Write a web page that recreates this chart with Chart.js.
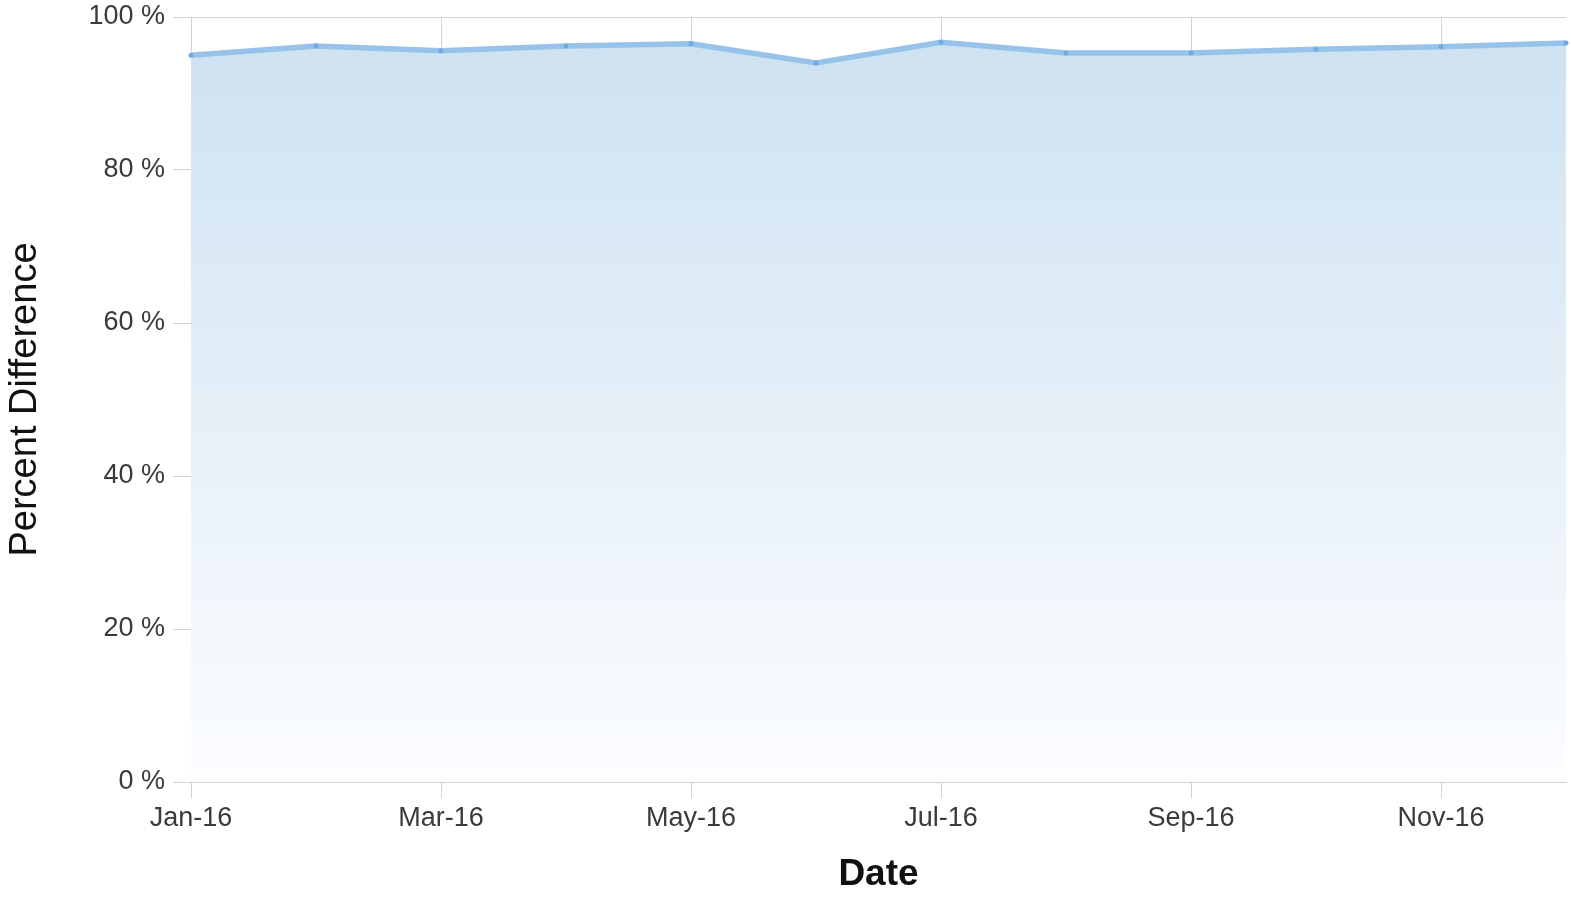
<!DOCTYPE html>
<html lang="en">
<head>
    <meta charset="UTF-8">
    <title>Percent Difference</title>
    <script src="https://cdn.jsdelivr.net/npm/chart.js"></script>
    <style>
        html, body { margin: 0; padding: 0; background: #fff; overflow: hidden; }
        #wrap { width: 1571px; height: 897px; position: relative; }
    </style>
</head>
<body>
    <div id="wrap">
        <canvas id="diffChart"></canvas>
    </div>

    <script>
        // months on the x axis
        const months = ['Jan-16', 'Feb-16', 'Mar-16', 'Apr-16', 'May-16', 'Jun-16',
                        'Jul-16', 'Aug-16', 'Sep-16', 'Oct-16', 'Nov-16', 'Dec-16'];
        // percent difference per month
        const percentDiff = [95.0, 96.2, 95.6, 96.2, 96.5, 94.0, 96.7, 95.3, 95.3, 95.8, 96.1, 96.6];
        const yMin = 0, yMax = 100, yStep = 20;

        const tickFont = { family: 'Liberation Sans', size: 27 };
        const gridColor = '#d3d3d3';

        const ctx = document.getElementById('diffChart').getContext('2d');
        new Chart(ctx, {
            type: 'line',
            data: {
                labels: months,
                datasets: [{
                    label: 'Percent Difference',
                    data: percentDiff,
                    borderColor: '#97c3ea',
                    borderWidth: 5.5,
                    pointRadius: 2.5,
                    pointBackgroundColor: '#6fabe2',
                    pointBorderWidth: 0,
                    tension: 0,
                    fill: 'start',
                    backgroundColor: function (context) {
                        const area = context.chart.chartArea;
                        if (!area) return 'rgba(205,226,242,1)';
                        const g = context.chart.ctx.createLinearGradient(0, area.top, 0, area.bottom);
                        g.addColorStop(0, 'rgb(204,225,241)');
                        g.addColorStop(1, 'rgb(252,253,255)');
                        return g;
                    }
                }]
            },
            options: {
                responsive: true,
                maintainAspectRatio: false,
                animation: false,
                layout: { padding: { top: 17, right: 5, left: 0, bottom: 0 } },
                plugins: {
                    legend: { display: false },
                    tooltip: { enabled: false }
                },
                scales: {
                    x: {
                        offset: false,
                        border: { color: gridColor },
                        grid: { color: gridColor, tickLength: 16, drawTicks: true },
                        ticks: {
                            autoSkip: false,
                            maxRotation: 0,
                            padding: 4,
                            color: '#3a3a3a',
                            font: tickFont,
                            callback: function (value, index) {
                                return index % 2 === 0 ? this.getLabelForValue(value) : null;
                            }
                        },
                        title: {
                            display: true,
                            text: 'Date',
                            color: '#111',
                            font: { family: 'Liberation Sans', size: 37, weight: 'bold' },
                            padding: { top: 2, bottom: 0 }
                        },
                        afterFit: function (scale) { scale.height = 115; }
                    },
                    y: {
                        min: yMin,
                        max: yMax,
                        border: { color: gridColor },
                        grid: { color: gridColor, tickLength: 18 },
                        ticks: {
                            stepSize: yStep,
                            padding: 8,
                            color: '#3a3a3a',
                            font: tickFont,
                            callback: function (value) { return value + ' %'; }
                        },
                        title: {
                            display: true,
                            text: 'Percent Difference',
                            color: '#111',
                            font: { family: 'Liberation Sans', size: 38 },
                            padding: { top: 3, bottom: 0 }
                        },
                        afterFit: function (scale) {
                            scale.width = 191;
                            // let the top label poke above the plot like the original
                            scale.paddingTop = 0;
                            scale.paddingBottom = 0;
                        }
                    }
                }
            }
        });
    </script>
</body>
</html>
